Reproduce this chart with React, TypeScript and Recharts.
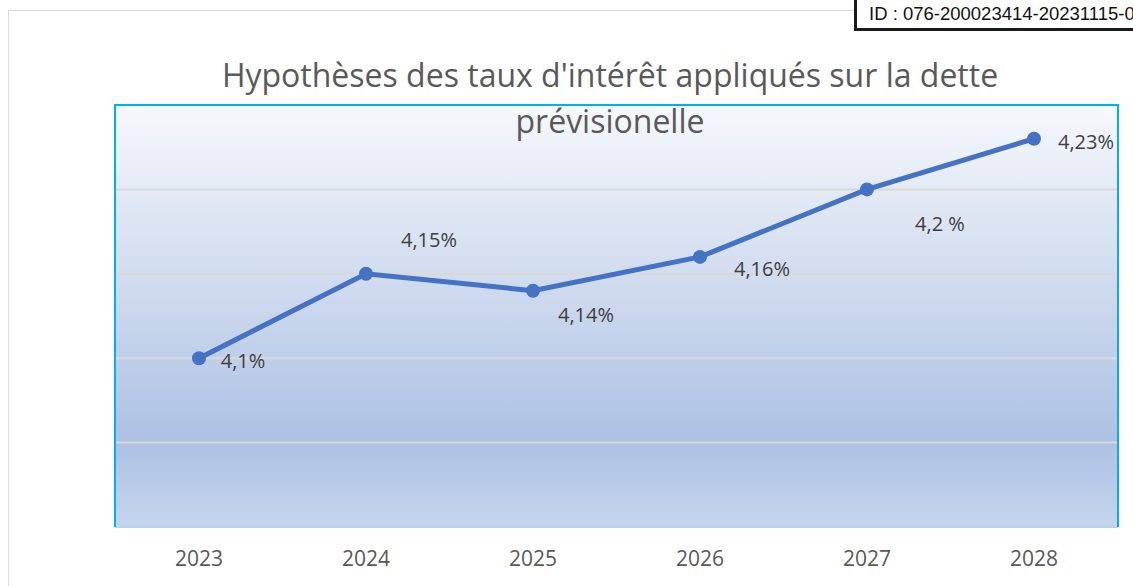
import { LineChart, Line, XAxis, YAxis, CartesianGrid, LabelList } from 'recharts';

const years = ['2023', '2024', '2025', '2026', '2027', '2028'];
const rates = [4.1, 4.15, 4.14, 4.16, 4.2, 4.23];
const rateLabels = ['4,1%', '4,15%', '4,14%', '4,16%', '4,2 %', '4,23%'];
const yTicks = [4.0, 4.05, 4.1, 4.15, 4.2, 4.25];

const data = years.map((year, i) => ({ year, rate: rates[i], label: rateLabels[i] }));

// label placement relative to the point (like the hand-dragged Excel labels)
const labelOffsets = [
  [44, 2],
  [63, -34],
  [53, 24],
  [62, 12],
  [73, 34],
  [52, 3],
];

const FONT = '"Open Sans", sans-serif';

const RateLabel = (props: any) => {
  const { x, y, index } = props;
  const [dx, dy] = labelOffsets[index];
  return (
    <text
      x={x + dx}
      y={y + dy}
      textAnchor="middle"
      dominantBaseline="central"
      fontSize={20}
      fontFamily={FONT}
      fill="#404040"
    >
      {rateLabels[index]}
    </text>
  );
};

export default function App() {
  return (
    <div style={{ position: 'fixed', left: 0, top: 0, width: 1133, height: 586, overflow: 'hidden', background: '#fff' }}>
      <div style={{ position: 'absolute', left: 8, top: 10, width: 1200, height: 700, border: '1px solid #D9D9D9' }} />
      <LineChart
        width={1133}
        height={586}
        data={data}
        margin={{ top: 105, right: 15, bottom: 29, left: 115 }}
        style={{ position: 'absolute', left: 0, top: 0 }}
      >
        <defs>
          <linearGradient id="plotBg" x1="0" y1="0" x2="0" y2="1">
            <stop offset="0%" stopColor="#F6F8FC" />
            <stop offset="80%" stopColor="#ADC1E3" />
            <stop offset="100%" stopColor="#C6D5EE" />
          </linearGradient>
        </defs>
        <CartesianGrid vertical={false} stroke="#D9D9D9" strokeWidth={2} fill="url(#plotBg)" fillOpacity={1} />
        <XAxis
          dataKey="year"
          height={30}
          padding={{ left: 84, right: 84 }}
          tickLine={false}
          axisLine={{ stroke: '#B4D4EA', strokeWidth: 2 }}
          tickMargin={18}
          tick={{ fontSize: 21, fill: '#595959', fontFamily: FONT }}
        />
        <YAxis hide width={0} domain={[4, 4.25]} ticks={yTicks} />
        <Line
          type="linear"
          dataKey="rate"
          stroke="#4472C4"
          strokeWidth={5}
          dot={{ r: 7, fill: '#4472C4', stroke: '#4472C4', strokeWidth: 0 }}
          isAnimationActive={false}
        >
          <LabelList dataKey="label" content={<RateLabel />} />
        </Line>
      </LineChart>
      {/* plot area frame: cyan on left/top/right */}
      <div
        style={{
          position: 'absolute',
          left: 114,
          top: 104,
          width: 1005,
          height: 423,
          borderLeft: '2px solid #00B0F0',
          borderTop: '2px solid #00B0F0',
          borderRight: '2px solid #00B0F0',
          boxSizing: 'border-box',
          pointerEvents: 'none',
        }}
      />
      <div
        style={{
          position: 'absolute',
          left: 0,
          top: 52,
          width: 1220,
          textAlign: 'center',
          fontFamily: FONT,
          fontSize: 32,
          lineHeight: '46px',
          color: '#595959',
          pointerEvents: 'none',
        }}
      >
        Hypothèses des taux d'intérêt appliqués sur la dette
        <br />
        prévisionelle
      </div>
      <div
        style={{
          position: 'absolute',
          left: 854,
          top: -3,
          width: 320,
          height: 34,
          border: '3px solid #1a1a1a',
          background: '#fff',
          fontFamily: '"Liberation Sans", Arial, sans-serif',
          fontSize: 18.5,
          lineHeight: '28px',
          paddingLeft: 12,
          color: '#111',
          whiteSpace: 'nowrap',
          boxSizing: 'border-box',
        }}
      >
        ID : 076-200023414-20231115-0
      </div>
    </div>
  );
}
